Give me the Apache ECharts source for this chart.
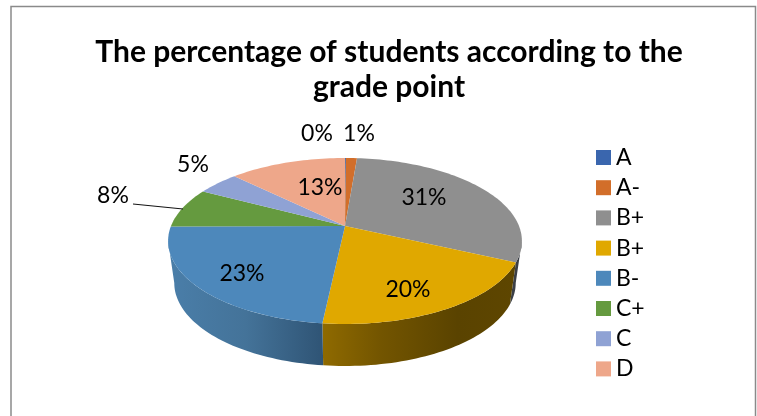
<!DOCTYPE html>
<html>
<head>
<meta charset="utf-8">
<style>html,body{margin:0;padding:0;background:#fff}#c{width:757px;height:416px}</style>
<script src="https://cdn.jsdelivr.net/npm/echarts@6/dist/echarts.min.js"></script>
</head>
<body>
<div id="c"></div>
<script>
const titleText = 'The percentage of students according to the\ngrade point';
const categories = ['A', 'A-', 'B+', 'B+', 'B-', 'C+', 'C', 'D'];
const shares = [0.1, 1.2, 30.6, 19.8, 23.2, 7.8, 4.6, 12.7];
const colors = ['#3a66ae', '#d26e2a', '#8f8f8f', '#e0a800', '#4d88bb', '#659a3f', '#8fa2d4', '#eea78a'];
const wallStops = [
  null, null,
  [['#3b3f46', 0], ['#3b3f46', 1]],
  [['#8f6a00', 0], ['#735500', 0.3], ['#5a4300', 0.7], ['#5e4600', 1]],
  [['#4a7ea9', 0], ['#447399', 0.5], ['#2f5475', 1]],
  null, null, null
];

// Layout of the projected disc
const CX = 345, CY = 226, RX = 174, RY = 80.3, P = 0.1807, DEPTH = 42, BOTTOM_SCALE = 0.965;
const VISIBLE_FROM = 100.4, VISIBLE_TO = 259.6;
const labelXY = {0: [317, 134], 1: [359, 134], 2: [424, 198], 3: [408, 290], 4: [242, 274], 5: [113, 196], 6: [193, 165], 7: [320, 188]};

const total = shares.reduce((a, b) => a + b, 0);
const starts = [];
shares.reduce((acc, v, i) => { starts[i] = acc; return acc + v; }, 0);

function project(deg, bottom) {
  const a = deg * Math.PI / 180, X = Math.sin(a), Y = Math.cos(a), w = 1 + P * Y;
  const sx = bottom ? BOTTOM_SCALE : 1;
  return [CX + sx * RX * X / w, CY - RY * Y / w + (bottom ? DEPTH : 0)];
}
function arc(a0, a1, bottom) {
  const n = Math.max(2, Math.ceil(Math.abs(a1 - a0) / 1.5)), pts = [];
  for (let i = 0; i <= n; i++) pts.push(project(a0 + (a1 - a0) * i / n, bottom));
  return pts;
}

function makeRender(idx) {
  return function (params, api) {
    const a0 = starts[idx] / total * 360;
    const a1 = a0 + api.value(0) / total * 360;
    const children = [];
    const w0 = Math.max(a0, VISIBLE_FROM), w1 = Math.min(a1, VISIBLE_TO);
    if (w1 > w0 && wallStops[idx]) {
      const pts = arc(w0, w1, false).concat(arc(w0, w1, true).reverse());
      children.push({
        type: 'polygon', shape: { points: pts },
        style: { fill: new echarts.graphic.LinearGradient(0, 0, 1, 0,
          wallStops[idx].map(s => ({ color: s[0], offset: s[1] }))) }
      });
    }
    children.push({
      type: 'polygon', shape: { points: [[CX, CY]].concat(arc(a0, a1, false)) },
      style: { fill: colors[idx] }
    });
    const pos = labelXY[idx];
    children.push({
      type: 'text', z2: 10, x: pos[0], y: pos[1],
      style: {
        text: Math.round(api.value(0)) + '%', align: 'center', verticalAlign: 'middle',
        font: '23px Lato', fill: '#000'
      }
    });
    if (idx === 5) {
      children.push({
        type: 'polyline', shape: { points: [[133, 204], [183, 209]] },
        style: { stroke: '#111', lineWidth: 1, fill: 'none' }
      });
    }
    return { type: 'group', children };
  };
}

const seen = {};
const seriesNames = categories.map(n => {
  let s = n;
  while (seen[s]) s += ' ';
  seen[s] = true;
  return s;
});

const chart = echarts.init(document.getElementById('c'), null, { renderer: 'canvas' });
chart.setOption({
  animation: false,
  backgroundColor: '#fff',
  title: {
    text: titleText, left: 384, top: 30, textAlign: 'center',
    textStyle: { fontFamily: 'Lato', fontWeight: 'bold', fontSize: 30, lineHeight: 35, color: '#000' }
  },
  legend: {
    orient: 'vertical', left: 596, top: 146, padding: 0, height: 260, itemWidth: 15, itemHeight: 15, itemGap: 7.2,
    icon: 'rect', selectedMode: false,
    data: seriesNames,
    textStyle: { fontFamily: 'Lato', fontSize: 23, color: '#000', lineHeight: 20, height: 20 }
  },
  graphic: [{
    type: 'polyline', silent: true, z: -1,
    shape: { points: [[11, 416], [11, 6.5], [755.5, 6.5], [755.5, 416]] },
    style: { stroke: '#8a8a8a', lineWidth: 1.5, fill: 'none' }
  }],
  series: categories.map((c, i) => ({
    type: 'custom',
    name: seriesNames[i],
    coordinateSystem: 'none',
    itemStyle: { color: colors[i] },
    renderItem: makeRender(i),
    data: [[shares[i]]],
    encode: { value: 0 }
  }))
});
</script>
</body>
</html>
